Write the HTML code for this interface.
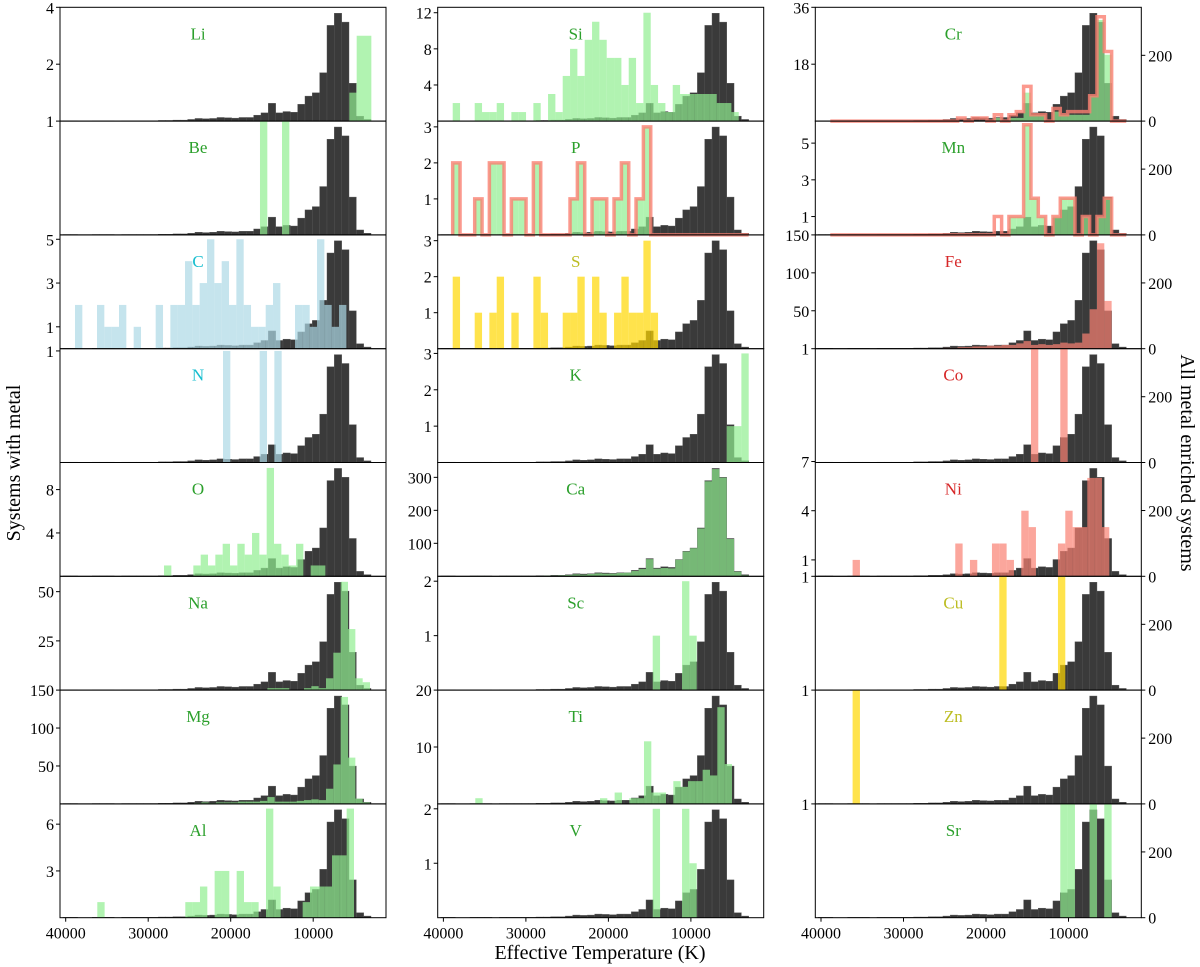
<!DOCTYPE html>
<html><head><meta charset="utf-8"><style>
body{margin:0;background:#fff;}
svg{display:block;font-family:"Liberation Serif",serif;}
</style></head><body>
<svg id="fig" width="1200" height="967" viewBox="0 0 1200 967" xmlns="http://www.w3.org/2000/svg">
<text x="0" y="0" transform="translate(20,463) rotate(-90)" text-anchor="middle" font-size="20">Systems with metal</text>
<text x="0" y="0" transform="translate(1181,463) rotate(90)" text-anchor="middle" font-size="20">All metal enriched systems</text>
<text x="600" y="959" text-anchor="middle" font-size="20">Effective Temperature (K)</text>
</svg>
<script>
const BW = 889;
const T0 = 40331;
const xTicks = [40000, 30000, 20000, 10000];
const blackCounts = [1,1,0,0,1,1,1,0,1,1,1,1,1,2,2,3,3,5,8,7,8,11,10,9,11,11,18,25,54,25,29,27,51,76,86,147,291,328,301,115,15,5];
const rightTicks = [0, 200];
const RMAX = 346;

const liVals=[1,3,3]; const liStart=5619;
const beVals=[1,0,0,1]; const beStart=16448;
const cVals=[2,0,0,2,1,1,2,0,1,0,0,2,0,2,2,4,2,3,5,3,4,2,5,2,1,1,2,3,0,0,2,2,1,5,2,1,2]; const cStart=38872;
const nVals=[1,0,0,0,0,1,0,1]; const nStart=20932;
const oVals=[1,0,0,0,1,2,1,2,3,1,3,2,4,2,10,3,2,1,3,0,1,1]; const oStart=28084;
const naVals=[1,1,1,0,0,1,2,1,6,19,55,31,6,4]; const naStart=15559;
const mgVals=[1,2,1,2,2,2,3,3,3,4,9,3,3,3,4,5,6,5,20,52,141,61,7,2]; const mgStart=24448;
const alVals=[1,0,0,0,0,0,0,0,0,0,0,0,1,1,2,0,3,3,0,3,1,1,0,7,2,0,0,0,1,2,2,2,4,4,7]; const alStart=36169;
const siVals=[2,0,0,2,1,1,2,0,1,1,0,2,0,3,1,5,8,5,9,11,9,7,7,4,7,2,12,4,2,1,4,3,3,3,3,3,2,2,1]; const siStart=38872;
const pVals=[2,0,0,1,0,2,2,0,1,1,0,2,0,0,0,0,1,2,0,1,1,0,1,2,0,1,3]; const pStart=38872;
const sVals=[2,0,0,1,0,1,2,0,1,0,0,2,1,0,0,1,1,2,0,2,1,0,1,2,1,1,3,1]; const sStart=38872;
const kVals=[1,1,3]; const kStart=5660;
const caVals=[0,0,0,0,1,1,0,0,0,1,1,1,1,1,2,2,3,4,6,5,7,9,8,8,10,11,16,22,52,23,25,24,50,75,85,145,288,325,299,113,14,3]; const caStart=T0;
const scVals=[1,0,0,0,2,1]; const scStart=14629;
const tiVals=[1,0,0,0,0,0,0,0,0,0,0,0,0,0,0,0,0,1,0,2,0,1,1,11,2,2,0,4,3,4,4,6,5,17,7]; const tiStart=36133;
const vVals=[2,0,0,0,2,1]; const vStart=14629;
const crVals=[1,0,1,1,9,2,2,0,3,2,2,2,2,8,32,21]; const crStart=T0-24*BW;
const crOutline=[1,0,1,1,0,2,0,2,3,11,2,2,0,4,2,3,3,3,8,33,22]; const crOutStart=T0-19*BW;
const mnVals=[1,1,6,2,1,0,1,2,2,0,1,0,1,2]; const mnStart=T0-26*BW;
const mnOutline=[1,0,1,1,6,2,1,0,1,2,2,0,1,0,1,2]; const mnOutStart=T0-24*BW;
const pOutline=pVals; const pOutStart=pStart;
const feVals=[1,1,2,2,3,3,4,4,5,5,7,10,5,6,5,6,8,7,8,20,52,139,63]; const feStart=T0-17*BW;
const coVals=[1,0,0,0,1]; const coStart=T0-29*BW;
const niVals=[1,0,0,0,0,0,0,0,0,0,0,0,0,0,2,0,1,0,0,2,2,1,0,4,3,0,0,0,2,4,3,3,6,6,3]; const niStart=T0-5*BW+283;
const cuVals=[1,0,0,0,0,0,0,0,1]; const cuStart=T0-25*BW+283;
const znVals=[1]; const znStart=T0-5*BW+283;
const srVals=[1,1,0,0,1,0,1]; const srStart=T0-33*BW;

const GREEN='#90ee90', BLUE='#add8e6', GOLD='#ffd700', SALMON='#fa8072';
const LG='#2ca02c', LB='#17becf', LY='#bcbd22', LR='#d62728';

const panels = [
 {name:'Li',col:0,row:0,vals:liVals,start:liStart,fill:GREEN,lc:LG,ymax:4,ticks:[2,4]},
 {name:'Be',col:0,row:1,vals:beVals,start:beStart,fill:GREEN,lc:LG,ymax:1,ticks:[1]},
 {name:'C',col:0,row:2,vals:cVals,start:cStart,fill:BLUE,lc:LB,ymax:5.2,ticks:[1,3,5]},
 {name:'N',col:0,row:3,vals:nVals,start:nStart,fill:BLUE,lc:LB,ymax:1.02,ticks:[1]},
 {name:'O',col:0,row:4,vals:oVals,start:oStart,fill:GREEN,lc:LG,ymax:10.5,ticks:[4,8]},
 {name:'Na',col:0,row:5,vals:naVals,start:naStart,fill:GREEN,lc:LG,ymax:57.8,ticks:[25,50]},
 {name:'Mg',col:0,row:6,vals:mgVals,start:mgStart,fill:GREEN,lc:LG,ymax:150,ticks:[50,100,150]},
 {name:'Al',col:0,row:7,vals:alVals,start:alStart,fill:GREEN,lc:LG,ymax:7.3,ticks:[3,6]},
 {name:'Si',col:1,row:0,vals:siVals,start:siStart,fill:GREEN,lc:LG,ymax:12.6,ticks:[4,8,12]},
 {name:'P',col:1,row:1,vals:pVals,start:pStart,fill:GREEN,lc:LG,ymax:3.16,ticks:[1,2,3],outline:pOutline,outStart:pOutStart},
 {name:'S',col:1,row:2,vals:sVals,start:sStart,fill:GOLD,lc:LY,ymax:3.16,ticks:[1,2,3]},
 {name:'K',col:1,row:3,vals:kVals,start:kStart,fill:GREEN,lc:LG,ymax:3.13,ticks:[1,2,3]},
 {name:'Ca',col:1,row:4,vals:caVals,start:caStart,fill:GREEN,lc:LG,ymax:345,ticks:[100,200,300]},
 {name:'Sc',col:1,row:5,vals:scVals,start:scStart,fill:GREEN,lc:LG,ymax:2.09,ticks:[1,2]},
 {name:'Ti',col:1,row:6,vals:tiVals,start:tiStart,fill:GREEN,lc:LG,ymax:20,ticks:[10,20]},
 {name:'V',col:1,row:7,vals:vVals,start:vStart,fill:GREEN,lc:LG,ymax:2.09,ticks:[1,2]},
 {name:'Cr',col:2,row:0,vals:crVals,start:crStart,fill:GREEN,lc:LG,ymax:36,ticks:[18,36],outline:crOutline,outStart:crOutStart},
 {name:'Mn',col:2,row:1,vals:mnVals,start:mnStart,fill:GREEN,lc:LG,ymax:6.2,ticks:[1,3,5],outline:mnOutline,outStart:mnOutStart},
 {name:'Fe',col:2,row:2,vals:feVals,start:feStart,fill:SALMON,lc:LR,ymax:150,ticks:[50,100,150]},
 {name:'Co',col:2,row:3,vals:coVals,start:coStart,fill:SALMON,lc:LR,ymax:1,ticks:[1]},
 {name:'Ni',col:2,row:4,vals:niVals,start:niStart,fill:SALMON,lc:LR,ymax:6.94,ticks:[1,4,7]},
 {name:'Cu',col:2,row:5,vals:cuVals,start:cuStart,fill:GOLD,lc:LY,ymax:1,ticks:[1]},
 {name:'Zn',col:2,row:6,vals:znVals,start:znStart,fill:GOLD,lc:LY,ymax:1,ticks:[1]},
 {name:'Sr',col:2,row:7,vals:srVals,start:srStart,fill:GREEN,lc:LG,ymax:1,ticks:[1]}
];

const svg = document.getElementById('fig');
const NS = 'http://www.w3.org/2000/svg';
const COL_LEFT = [60, 437.7, 815.3];
const W = 326, H = 113.8, TOP = 7.3;
const PXK = 0.00825, TLEFT = 40690;

function mk(tag, attrs, parent) {
  const e = document.createElementNS(NS, tag);
  for (const k in attrs) e.setAttribute(k, attrs[k]);
  (parent || svg).appendChild(e);
  return e;
}

panels.forEach(p => {
  const left = COL_LEFT[p.col], top = TOP + p.row * H, base = top + H;
  const xpx = T => left + (TLEFT - T) * PXK;
  const ypx = v => base - v / p.ymax * H;
  const yb = v => base - v / RMAX * H;
  const g = mk('g', {});
  
  

  const bg = mk('g', {}, g);
  
  
  blackCounts.forEach((v, i) => {
    if (!v) return;
    const x = xpx(T0 - i * BW);
    const r = mk('rect', {x: x, y: yb(v), width: BW * PXK, height: base - yb(v), fill: '#3a3a3a', stroke: '#555', 'stroke-width': 0.4}, bg);
    
    
  });

  const eg = mk('g', {}, g);
  
  
  p.vals.forEach((v, i) => {
    if (!v) return;
    const x = xpx(p.start - i * BW);
    const r = mk('rect', {x: x, y: ypx(v), width: BW * PXK, height: base - ypx(v), fill: p.fill, 'fill-opacity': 0.7}, eg);
    
    
  });

  if (p.outline) {
    const x0 = xpx(38872), x1 = xpx(3000);
    let d = 'M' + x0 + ',' + base + ' H' + xpx(p.outStart);
    p.outline.forEach((v, i) => {
      d += ' V' + ypx(v) + ' H' + xpx(p.outStart - (i + 1) * BW);
    });
    d += ' V' + base + ' H' + x1;
    const o = mk('path', {d: d, fill: 'none', stroke: SALMON, 'stroke-opacity': 0.8, 'stroke-width': 3.5, 'stroke-linejoin': 'miter'}, g);
    
    
  }

  const fr = mk('rect', {x: left, y: top, width: W, height: H, fill: 'none', stroke: '#000', 'stroke-width': 1}, g);
  
  

  const lab = mk('text', {x: left + 138, y: top + 32, 'text-anchor': 'middle', 'font-size': 17, fill: p.lc}, g);
  lab.textContent = p.name;
  
  

  p.ticks.forEach(t => {
    const y = ypx(t);
    const tk = mk('line', {x1: left - 4, x2: left, y1: y, y2: y, stroke: '#000', 'stroke-width': 1}, g);
    
    
    const tl = mk('text', {x: left - 6, y: y + 6, 'text-anchor': 'end', 'font-size': 16}, g);
    tl.textContent = t;
    
    
  });

  if (p.col === 2) {
    rightTicks.forEach(t => {
      const y = yb(t);
      const tk = mk('line', {x1: left + W, x2: left + W + 4, y1: y, y2: y, stroke: '#000', 'stroke-width': 1}, g);
      
      
      const tl = mk('text', {x: left + W + 7, y: y + 6, 'text-anchor': 'start', 'font-size': 16}, g);
      tl.textContent = t;
      
      
    });
  }

  if (p.row === 7) {
    xTicks.forEach(t => {
      const x = xpx(t);
      const tk = mk('line', {x1: x, x2: x, y1: base, y2: base + 4, stroke: '#000', 'stroke-width': 1}, g);
      
      
      const tl = mk('text', {x: x, y: base + 21, 'text-anchor': 'middle', 'font-size': 16}, g);
      tl.textContent = t;
      
      
    });
  }
});
</script>
</body></html>
